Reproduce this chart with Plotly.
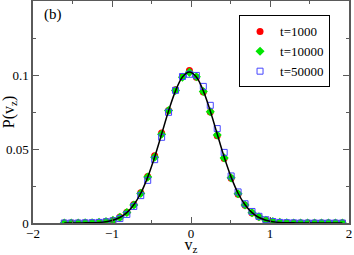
import plotly.graph_objects as go

# bin centres of v_z
v_z = [-1.604, -1.516, -1.428, -1.340, -1.252, -1.164, -1.076, -0.988, -0.900, -0.812,
       -0.724, -0.636, -0.548, -0.460, -0.372, -0.284, -0.196, -0.108, -0.020, 0.068,
       0.156, 0.244, 0.332, 0.420, 0.508, 0.596, 0.684, 0.772, 0.860, 0.948,
       1.036, 1.124, 1.212, 1.300, 1.388, 1.476, 1.564, 1.652, 1.740, 1.828, 1.916]

p_t1000 = [0.0000, 0.0000, 0.0000, 0.0001, 0.0002, 0.0005, 0.0010, 0.0017, 0.0040, 0.0072,
           0.0125, 0.0205, 0.0315, 0.0455, 0.0608, 0.0760, 0.0900, 0.0990, 0.1030, 0.0985,
           0.0885, 0.0750, 0.0590, 0.0436, 0.0302, 0.0195, 0.0120, 0.0068, 0.0040, 0.0018,
           0.0008, 0.0003, 0.0001, 0.0000, 0.0000, 0.0000, 0.0000, 0.0000, 0.0000, 0.0000, 0.0000]

p_t10000 = [0.0000, 0.0000, 0.0000, 0.0001, 0.0002, 0.0004, 0.0009, 0.0019, 0.0038, 0.0071,
            0.0122, 0.0200, 0.0310, 0.0445, 0.0600, 0.0760, 0.0895, 0.0985, 0.1018, 0.0988,
            0.0889, 0.0752, 0.0595, 0.0440, 0.0305, 0.0198, 0.0122, 0.0070, 0.0042, 0.0019,
            0.0009, 0.0004, 0.0001, 0.0000, 0.0000, 0.0000, 0.0000, 0.0000, 0.0000, 0.0000, 0.0000]

p_t50000 = [0.0000, 0.0000, 0.0000, 0.0001, 0.0002, 0.0004, 0.0008, 0.0015, 0.0030, 0.0058,
            0.0112, 0.0185, 0.0288, 0.0428, 0.0579, 0.0748, 0.0896, 0.0990, 0.1005, 0.0997,
            0.0923, 0.0795, 0.0638, 0.0477, 0.0318, 0.0210, 0.0130, 0.0078, 0.0045, 0.0022,
            0.0010, 0.0004, 0.0002, 0.0001, 0.0000, 0.0000, 0.0000, 0.0000, 0.0000, 0.0000, 0.0000]

# gaussian fit (black line)
p_fit = [0.0000, 0.0000, 0.0000, 0.0001, 0.0002, 0.0004, 0.0009, 0.0019, 0.0037, 0.0070,
         0.0123, 0.0201, 0.0310, 0.0446, 0.0601, 0.0757, 0.0893, 0.0987, 0.1020, 0.0987,
         0.0893, 0.0757, 0.0601, 0.0446, 0.0310, 0.0201, 0.0123, 0.0070, 0.0037, 0.0019,
         0.0009, 0.0004, 0.0002, 0.0001, 0.0000, 0.0000, 0.0000, 0.0000, 0.0000, 0.0000, 0.0000]

SERIF = 'Liberation Serif, Times New Roman, serif'
FRAME = 'rgb(90,90,90)'

fig = go.Figure()

fig.add_trace(go.Scatter(
    x=v_z, y=p_t1000, mode='markers', name='t=1000',
    marker=dict(symbol='circle', size=7, color='rgb(255,0,0)'),
))
fig.add_trace(go.Scatter(
    x=v_z, y=p_t10000, mode='markers', name='t=10000',
    marker=dict(symbol='diamond', size=7, color='rgb(0,230,0)'),
))
fig.add_trace(go.Scatter(
    x=v_z, y=p_t50000, mode='markers', name='t=50000',
    marker=dict(symbol='square-open', size=6, color='rgb(70,70,255)',
                line=dict(width=1)),
))
fig.add_trace(go.Scatter(
    x=v_z, y=p_fit, mode='lines', line=dict(color='black', width=1.5, shape='spline'),
    showlegend=False, hoverinfo='skip',
))

axis_common = dict(
    showline=True, linecolor=FRAME, linewidth=1.5, mirror='ticks',
    ticks='inside', ticklen=6, tickcolor=FRAME, tickwidth=1,
    showgrid=False, zeroline=False, automargin=False,
    tickfont=dict(family=SERIF, size=13, color='black'),
)

fig.update_layout(
    width=354, height=255, autosize=False,
    margin=dict(l=33, r=5, t=1, b=32, autoexpand=False),
    paper_bgcolor='white', plot_bgcolor='white',
    font=dict(family=SERIF, color='black'),
    xaxis=dict(
        range=[-2, 2], tickvals=[-2, -1, 0, 1, 2],
        minor=dict(dtick=0.5, ticks='inside', ticklen=3, tickcolor=FRAME),
        title=dict(text='v<sub>z</sub>', font=dict(family=SERIF, size=16), standoff=0),
        ticklabelstandoff=-2,
        **axis_common,
    ),
    yaxis=dict(
        range=[0, 0.15], tickvals=[0, 0.05, 0.1], ticktext=['0', '0.05', '0.1'],
        minor=dict(dtick=0.025, ticks='inside', ticklen=3, tickcolor=FRAME),
        title=dict(text='P(v<sub>z</sub>)', font=dict(family=SERIF, size=16), standoff=2),
        **axis_common,
    ),
    legend=dict(
        x=0.94, y=0.935, xanchor='right', yanchor='top',
        bgcolor='white', bordercolor='black', borderwidth=1,
        font=dict(family=SERIF, size=13), tracegroupgap=0,
        itemwidth=30,
    ),
    annotations=[dict(
        x=0.03, y=0.985, xref='paper', yref='paper', xanchor='left', yanchor='top',
        text='(b)', showarrow=False, font=dict(family=SERIF, size=15),
    )],
)

fig.write_html("out.html", config={'displayModeBar': False},
               post_script="document.body.style.margin='0px';")
